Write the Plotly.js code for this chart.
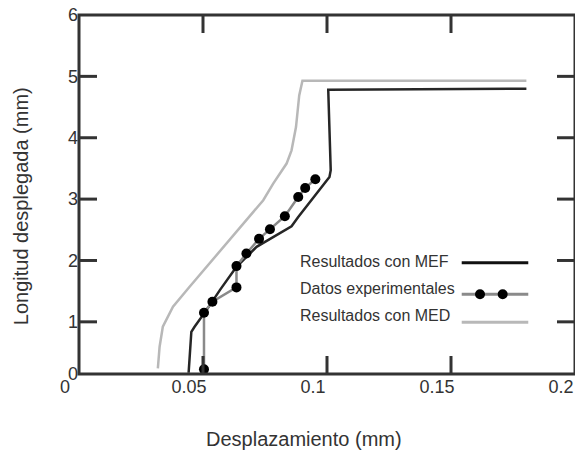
<!DOCTYPE html>
<html>
<head>
<meta charset="utf-8">
<script src="https://cdn.plot.ly/plotly-3.0.1.min.js"></script>
<style>html,body{margin:0;padding:0;background:#fff;}#chart{width:575px;height:450px;}</style>
</head>
<body>
<div id="chart"></div>
<script>
// Resultados con MEF
const mefX = [0.0442, 0.0453, 0.0466, 0.0514, 0.0568, 0.0635, 0.0716, 0.0783, 0.0857, 0.0884, 0.0938, 0.1010, 0.1015, 0.1005, 0.1804];
const mefY = [0.17, 0.838, 0.920, 1.191, 1.517, 1.896, 2.222, 2.384, 2.558, 2.710, 2.982, 3.361, 3.470, 4.783, 4.799];
// Datos experimentales
const expX = [0.0504, 0.0504, 0.0538, 0.0635, 0.0635, 0.0675, 0.0726, 0.0770, 0.0830, 0.0884, 0.0912, 0.0953];
const expY = [0.226, 1.148, 1.327, 1.561, 1.908, 2.114, 2.352, 2.510, 2.721, 3.035, 3.182, 3.323];
// Resultados con MED
const medX = [0.0318, 0.0325, 0.0338, 0.0379, 0.0446, 0.0514, 0.0595, 0.0675, 0.0743, 0.0783, 0.0837, 0.0857, 0.0875, 0.0888, 0.0901, 0.1804];
const medY = [0.243, 0.594, 0.920, 1.245, 1.571, 1.896, 2.277, 2.656, 2.982, 3.253, 3.579, 3.795, 4.174, 4.690, 4.930, 4.930];

const xTickVals = [0, 0.05, 0.1, 0.15, 0.2];
const xTickText = ['0', '0.05', '0.1', '0.15', '0.2'];
const yTickVals = [0.15, 1, 2, 3, 4, 5, 6];
const yTickText = ['0', '1', '2', '3', '4', '5', '6'];
const seriesNames = ['Resultados con MEF', 'Datos experimentales', 'Resultados con MED'];
const xTitle = 'Desplazamiento (mm)';
const yTitle = 'Longitud desplegada (mm)';

const cMEF = '#262626', cEXP = '#8a8a8a', cMED = '#b8b8b8', cAxis = '#333333';
const fam = 'Liberation Sans, Arial, sans-serif';

const traces = [
  {x: medX, y: medY, name: seriesNames[2], mode: 'lines', line: {color: cMED, width: 2.5}, showlegend: false},
  {x: mefX, y: mefY, name: seriesNames[0], mode: 'lines', line: {color: cMEF, width: 2.5}, showlegend: false},
  {x: expX, y: expY, name: seriesNames[1], mode: 'lines+markers', line: {color: cEXP, width: 2.5},
   marker: {color: '#000', size: 10}, showlegend: false}
];

const axisCommon = {
  showgrid: false, zeroline: false, showline: false, ticks: '',
  tickfont: {family: fam, size: 18, color: cAxis}
};

// frame and inward tick marks (positioned through the axes)
const shapes = [
  {type: 'rect', xref: 'paper', yref: 'paper', x0: 0, x1: 1, y0: 0, y1: 1, line: {color: cAxis, width: 3}, fillcolor: 'rgba(0,0,0,0)', layer: 'above'}
];
xTickVals.slice(1, -1).forEach(function (v) {
  shapes.push({type: 'line', xref: 'x', yref: 'paper', ysizemode: 'pixel', yanchor: 0, x0: v, x1: v, y0: 0, y1: 18, line: {color: cAxis, width: 3}});
  shapes.push({type: 'line', xref: 'x', yref: 'paper', ysizemode: 'pixel', yanchor: 1, x0: v, x1: v, y0: 0, y1: -18, line: {color: cAxis, width: 3}});
});
yTickVals.slice(1, -1).forEach(function (v) {
  shapes.push({type: 'line', xref: 'paper', yref: 'y', xsizemode: 'pixel', xanchor: 0, x0: 0, x1: 18, y0: v, y1: v, line: {color: cAxis, width: 3}});
  shapes.push({type: 'line', xref: 'paper', yref: 'y', xsizemode: 'pixel', xanchor: 1, x0: 0, x1: -18, y0: v, y1: v, line: {color: cAxis, width: 3}});
});

// legend: text on the left, sample on the right
const legRow = [0.310, 0.222, 0.144];
const legTextY = [0.312, 0.238, 0.1616];
const lx0 = 0.7716, lx1 = 0.9058;
shapes.push({type: 'line', xref: 'paper', yref: 'paper', x0: lx0, x1: lx1, y0: legRow[0], y1: legRow[0], line: {color: '#111', width: 3}});
shapes.push({type: 'line', xref: 'paper', yref: 'paper', x0: lx0, x1: lx1, y0: legRow[1], y1: legRow[1], line: {color: cEXP, width: 3}});
shapes.push({type: 'line', xref: 'paper', yref: 'paper', x0: lx0, x1: lx1, y0: legRow[2], y1: legRow[2], line: {color: cMED, width: 3}});
[0.8085, 0.8542].forEach(function (xa) {
  shapes.push({type: 'circle', xref: 'paper', yref: 'paper', xsizemode: 'pixel', ysizemode: 'pixel',
    xanchor: xa, yanchor: legRow[1], x0: -5, x1: 5, y0: -5, y1: 5, fillcolor: '#000', line: {color: '#000', width: 0}});
});

const annotations = seriesNames.map(function (n, i) {
  return {text: n, xref: 'paper', yref: 'paper', x: 0.4415, y: legTextY[i], xanchor: 'left', yanchor: 'middle',
    showarrow: false, font: {family: fam, size: 16, color: cAxis}};
});
annotations.push({text: xTitle, xref: 'paper', yref: 'paper', x: 0.4536, y: -0.181, xanchor: 'center', yanchor: 'middle',
  showarrow: false, font: {family: fam, size: 20, color: cAxis}});
annotations.push({text: yTitle, xref: 'paper', yref: 'paper', x: -0.1155, y: 0.4666, xanchor: 'center', yanchor: 'middle',
  textangle: -90, showarrow: false, font: {family: fam, size: 20, color: cAxis}});

const layout = {
  width: 575, height: 450,
  margin: {l: 79, r: 0, t: 15, b: 76},
  paper_bgcolor: '#fff', plot_bgcolor: '#fff',
  showlegend: false,
  xaxis: Object.assign({}, axisCommon, {range: [0, 0.2], tickvals: xTickVals, ticktext: xTickText, ticklabelshift: -14}),
  yaxis: Object.assign({}, axisCommon, {range: [0.15, 6], tickvals: yTickVals, ticktext: yTickText}),
  shapes: shapes,
  annotations: annotations
};

Plotly.newPlot('chart', traces, layout, {displayModeBar: false, staticPlot: true});
</script>
</body>
</html>
